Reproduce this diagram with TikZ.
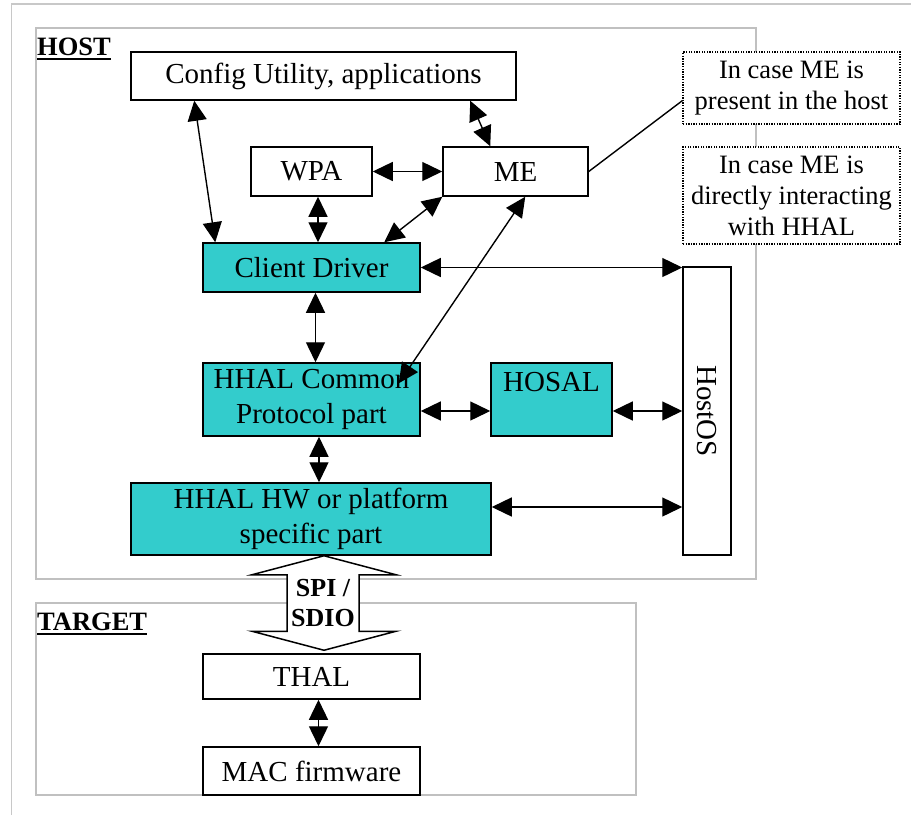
\documentclass[tikz,border=0pt]{standalone}
\usepackage{fontspec}
\setmainfont{Liberation Serif}
\usetikzlibrary{arrows.meta,calc}
\definecolor{hhalfill}{RGB}{51,204,204}
\definecolor{framegray}{RGB}{192,192,192}
\definecolor{pagegray}{RGB}{200,200,200}
\begin{document}
\begin{tikzpicture}[x=1pt,y=-1pt,
  box/.style={draw, line width=1.5pt, fill=white, inner sep=0pt, align=center,
    font=\fontsize{29}{35}\selectfont},
  core/.style={box, fill=hhalfill},
  note/.style={draw, line width=1.3pt, dash pattern=on 1.3pt off 1.3pt, fill=white,
    inner sep=0pt, align=center, font=\fontsize{26.5}{31}\selectfont},
  link/.style={line width=1.4pt, {Triangle[length=20pt,width=19pt]}-{Triangle[length=20pt,width=19pt]}},
  plainlink/.style={line width=1.4pt},
  frame/.style={draw=framegray, line width=1.5pt},
  grouplabel/.style={anchor=base west, inner sep=0pt, font=\bfseries\fontsize{26.5}{30}\selectfont},
  bus/.style={draw, line width=1.5pt, fill=white, line join=miter},
]
\useasboundingbox (0,0) rectangle (911,815);

% page frame and the two groups
\draw[draw=pagegray, line width=1.5pt] (11.7,815) -- (11.7,4) -- (911,4);
\draw[frame] (36,28) rectangle (756,579);
\draw[frame] (36,603) rectangle (636,795);

\node[grouplabel] (hostlbl) at (37,55) {HOST};
\draw[line width=2pt] ([yshift=-3.5pt]hostlbl.base west) -- ([yshift=-3.5pt]hostlbl.base east);
\node[grouplabel] (targetlbl) at (37,630) {TARGET};
\draw[line width=2pt] ([yshift=-3.5pt]targetlbl.base west) -- ([yshift=-3.5pt]targetlbl.base east);

% host side blocks
\node[box, minimum width=385pt, minimum height=48pt] (cfg) at (323.5,76) {Config Utility, applications};
\node[box, minimum width=121pt, minimum height=49pt] (wpa) at (311.5,171.5) {WPA};
\node[box, minimum width=145pt, minimum height=49pt] (me) at (515.5,171.5) {ME};
\node[core, minimum width=217pt, minimum height=49pt] (cd) at (311.5,267.5) {Client Driver};
\node[core, minimum width=217pt, minimum height=73pt] (hcp) at (311.5,399.5) {HHAL Common\\Protocol part};
\node[core, minimum width=121pt, minimum height=73pt] (hosal) at (551.5,399.5) {HOSAL\\\mbox{}};
\node[core, minimum width=360pt, minimum height=72pt] (hhw) at (311,519) {HHAL HW or platform\\specific part};
\node[box, minimum width=48pt, minimum height=288pt] (os) at (707,411) {};
\node[rotate=-90, inner sep=0pt, font=\fontsize{29}{35}\selectfont] (ostext) at (os.center) {HostOS};

% remarks
\node[note, minimum width=217pt, minimum height=72pt] (n1) at (791.5,88) {In case ME is\\present in the host};
\node[note, minimum width=217pt, minimum height=97pt] (n2) at (791.5,195.5) {In case ME is\\directly interacting\\with HHAL};

% target side blocks
\node[box, minimum width=217pt, minimum height=45pt] (thal) at (311.5,676.5) {THAL};
\node[box, minimum width=217pt, minimum height=48pt] (mac) at (311.5,771) {MAC firmware};

% interface between host and target
\coordinate (bustop) at ($(hhw.south)+(13,0)$);
\coordinate (busbot) at ($(thal.north)+(12.5,-3)$);
\draw[bus] (bustop) -- ($(bustop)+(72,19)$) -- ($(bustop)+(35,19)$) -- ($(busbot)+(35,-19)$)
  -- ($(busbot)+(72,-19)$) -- (busbot) -- ($(busbot)+(-72,-19)$) -- ($(busbot)+(-37,-19)$)
  -- ($(bustop)+(-37,19)$) -- ($(bustop)+(-72,19)$) -- cycle;
\node[inner sep=0pt, align=center, font=\bfseries\fontsize{26}{30}\selectfont] (buslbl)
  at ($(bustop)!0.5!(busbot)+(-1,0)$) {SPI /\\SDIO};

% connector end points
\coordinate (mehit) at ($(hcp.north east)+(-22,21)$);
\coordinate (hosalout) at ($(hosal.east)+(0,11.5)$);
\coordinate (hcpdown) at ($(hcp.south)+(7.5,0)$);
\coordinate (hhwout) at ($(hhw.east)+(0,-12)$);

% connectors
\draw[link] ($(cfg.south west)+(64,0)$) -- ($(cd.north west)+(13,0)$);
\draw[link] ($(cfg.south west)+(340,0)$) -- ($(me.north west)+(48,0)$);
\draw[link] (wpa.east) -- (me.west);
\draw[link] ($(wpa.south)+(6.5,0)$) -- ($(cd.north)+(6.5,0)$);
\draw[link] (me.south west) -- ($(cd.north west)+(182,0)$);
\draw[link] ($(me.south west)+(83,0)$) -- (mehit);
\draw[plainlink] (me.east) -- ($(n1.south west)+(0,-24)$);
\draw[link] (cd.east) -- (cd.east -| os.west);
\draw[link] ($(cd.south)+(4,0)$) -- ($(hcp.north)+(4,0)$);
\draw[link] ($(hcp.east)+(0,11.5)$) -- ($(hosal.west)+(0,11.5)$);
\draw[link] (hosalout) -- (hosalout -| os.west);
\draw[link] (hcpdown) -- (hcpdown |- hhw.north);
\draw[link] (hhwout) -- (hhwout -| os.west);
\draw[link] ($(thal.south)+(7,0)$) -- ($(mac.north)+(7,0)$);
\end{tikzpicture}
\end{document}
